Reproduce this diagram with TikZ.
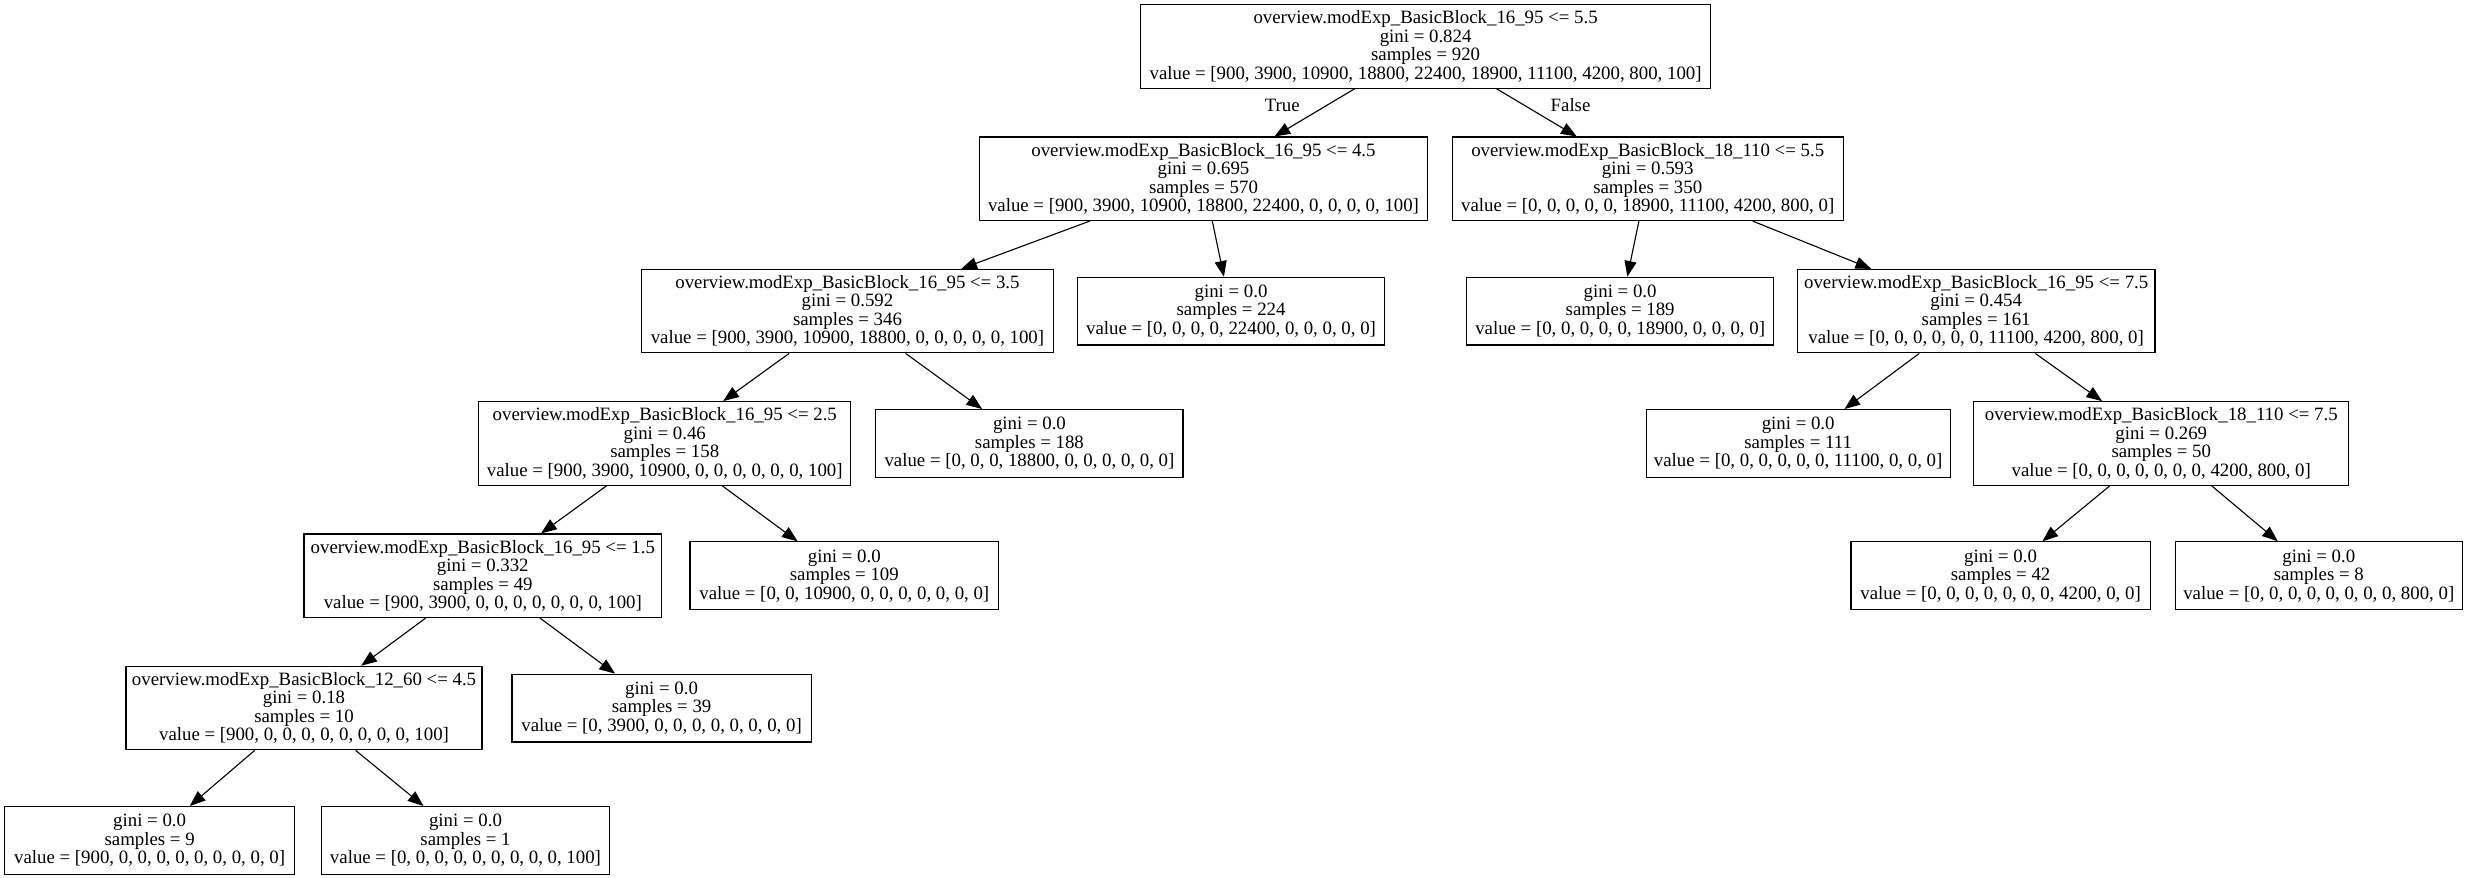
\documentclass[tikz,border=0pt]{standalone}
\usepackage{fontspec}
\setmainfont{Liberation Serif}
\usetikzlibrary{arrows.meta}
\newcommand\treefont{\fontsize{10.2}{10}\selectfont}
\begin{document}
\begin{tikzpicture}[x=0.03cm,y=-0.03cm,
  tbox/.style={draw, line width=0.6pt, inner sep=0pt, align=center, font=\treefont},
  boxw/.style={minimum width=#1*0.03cm},
  split/.style={tbox, minimum height=53*0.03cm},
  leaf/.style={tbox, minimum height=43*0.03cm},
  edge/.style={line width=0.6pt, -{Triangle[length=8.5pt,width=6.5pt]}},
  elabel/.style={font=\treefont, inner sep=0pt}]
\useasboundingbox (0,0) rectangle (1568,557);

% level 0
\node[split, boxw=362] (n0) at (905,29.5) {overview.modExp\_BasicBlock\_16\_95 <= 5.5\\gini = 0.824\\samples = 920\\value = [900, 3900, 10900, 18800, 22400, 18900, 11100, 4200, 800, 100]};
% level 1
\node[split, boxw=284] (n1) at (764,113.5) {overview.modExp\_BasicBlock\_16\_95 <= 4.5\\gini = 0.695\\samples = 570\\value = [900, 3900, 10900, 18800, 22400, 0, 0, 0, 0, 100]};
\node[split, boxw=248] (n2) at (1046,113.5) {overview.modExp\_BasicBlock\_18\_110 <= 5.5\\gini = 0.593\\samples = 350\\value = [0, 0, 0, 0, 0, 18900, 11100, 4200, 800, 0]};
% level 2
\node[split, boxw=262] (n3) at (538,197.5) {overview.modExp\_BasicBlock\_16\_95 <= 3.5\\gini = 0.592\\samples = 346\\value = [900, 3900, 10900, 18800, 0, 0, 0, 0, 0, 100]};
\node[leaf, boxw=195] (n4) at (781.5,197.5) {gini = 0.0\\samples = 224\\value = [0, 0, 0, 0, 22400, 0, 0, 0, 0, 0]};
\node[leaf, boxw=195] (n5) at (1028.5,197.5) {gini = 0.0\\samples = 189\\value = [0, 0, 0, 0, 0, 18900, 0, 0, 0, 0]};
\node[split, boxw=227] (n6) at (1254.5,197.5) {overview.modExp\_BasicBlock\_16\_95 <= 7.5\\gini = 0.454\\samples = 161\\value = [0, 0, 0, 0, 0, 0, 11100, 4200, 800, 0]};
% level 3
\node[split, boxw=236] (n7) at (422,281.5) {overview.modExp\_BasicBlock\_16\_95 <= 2.5\\gini = 0.46\\samples = 158\\value = [900, 3900, 10900, 0, 0, 0, 0, 0, 0, 100]};
\node[leaf, boxw=195] (n8) at (653.5,281.5) {gini = 0.0\\samples = 188\\value = [0, 0, 0, 18800, 0, 0, 0, 0, 0, 0]};
\node[leaf, boxw=193] (n9) at (1141.5,281.5) {gini = 0.0\\samples = 111\\value = [0, 0, 0, 0, 0, 0, 11100, 0, 0, 0]};
\node[split, boxw=238] (n10) at (1372,281.5) {overview.modExp\_BasicBlock\_18\_110 <= 7.5\\gini = 0.269\\samples = 50\\value = [0, 0, 0, 0, 0, 0, 0, 4200, 800, 0]};
% level 4
\node[split, boxw=227] (n11) at (306.5,365.5) {overview.modExp\_BasicBlock\_16\_95 <= 1.5\\gini = 0.332\\samples = 49\\value = [900, 3900, 0, 0, 0, 0, 0, 0, 0, 100]};
\node[leaf, boxw=196] (n12) at (536,365.5) {gini = 0.0\\samples = 109\\value = [0, 0, 10900, 0, 0, 0, 0, 0, 0, 0]};
\node[leaf, boxw=190] (n13) at (1270,365.5) {gini = 0.0\\samples = 42\\value = [0, 0, 0, 0, 0, 0, 0, 4200, 0, 0]};
\node[leaf, boxw=182] (n14) at (1472,365.5) {gini = 0.0\\samples = 8\\value = [0, 0, 0, 0, 0, 0, 0, 0, 800, 0]};
% level 5
\node[split, boxw=226] (n15) at (193,449.5) {overview.modExp\_BasicBlock\_12\_60 <= 4.5\\gini = 0.18\\samples = 10\\value = [900, 0, 0, 0, 0, 0, 0, 0, 0, 100]};
\node[leaf, boxw=190] (n16) at (420,449.5) {gini = 0.0\\samples = 39\\value = [0, 3900, 0, 0, 0, 0, 0, 0, 0, 0]};
% level 6
\node[leaf, boxw=184] (n17) at (95,533.5) {gini = 0.0\\samples = 9\\value = [900, 0, 0, 0, 0, 0, 0, 0, 0, 0]};
\node[leaf, boxw=183] (n18) at (295.5,533.5) {gini = 0.0\\samples = 1\\value = [0, 0, 0, 0, 0, 0, 0, 0, 0, 100]};

% branches
\draw[edge] (n0) -- (n1);
\draw[edge] (n0) -- (n2);
\draw[edge] (n1) -- (n3);
\draw[edge] (n1) -- (n4);
\draw[edge] (n2) -- (n5);
\draw[edge] (n2) -- (n6);
\draw[edge] (n3) -- (n7);
\draw[edge] (n3) -- (n8);
\draw[edge] (n6) -- (n9);
\draw[edge] (n6) -- (n10);
\draw[edge] (n7) -- (n11);
\draw[edge] (n7) -- (n12);
\draw[edge] (n10) -- (n13);
\draw[edge] (n10) -- (n14);
\draw[edge] (n11) -- (n15);
\draw[edge] (n11) -- (n16);
\draw[edge] (n15) -- (n17);
\draw[edge] (n15) -- (n18);

% branch labels at the root
\node[elabel] (ltrue) at (814,67) {True};
\node[elabel] (lfalse) at (997,67) {False};
\end{tikzpicture}
\end{document}
